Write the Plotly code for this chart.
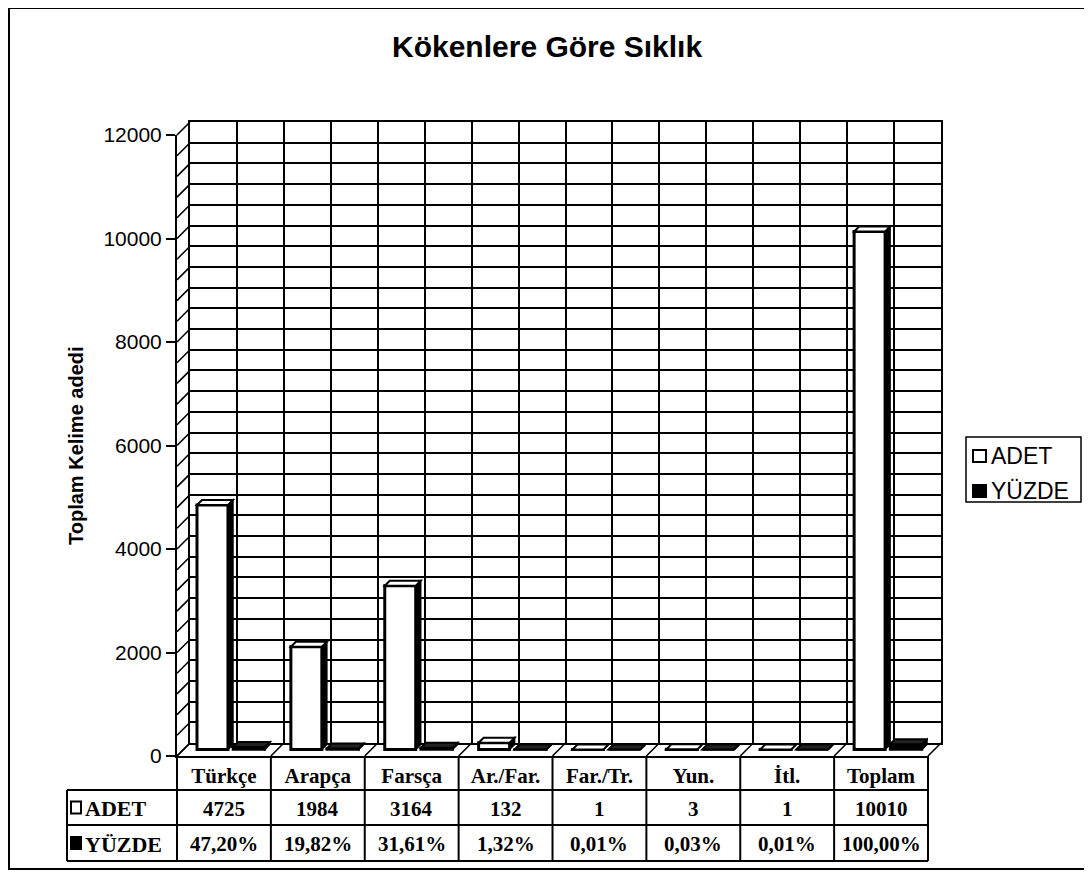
import plotly.graph_objects as go

# ---------------- data ----------------
categories = ["Türkçe", "Arapça", "Farsça", "Ar./Far.", "Far./Tr.", "Yun.", "İtl.", "Toplam"]
adet = [4725, 1984, 3164, 132, 1, 3, 1, 10010]
yuzde = [47.20, 19.82, 31.61, 1.32, 0.01, 0.03, 0.01, 100.00]
y_ticks = [0, 2000, 4000, 6000, 8000, 10000, 12000]
series_names = ["ADET", "YÜZDE"]
title_text = "Kökenlere Göre Sıklık"
y_title = "Toplam Kelime adedi"

# ---------------- geometry (screen pixels) ----------------
PAGE_OFF = 8                             # default body margin of the html page
FW, FH = 1092 - PAGE_OFF, 873 - PAGE_OFF
PL, PR, PT, PB = 177, 941, 122, 756      # paper region (screen px)
FRONT_R, FRONT_T = 928, 135              # front plane right / top
DEPTH = 13                               # 3-D depth offset (px)
YMAX = 12000
NCAT = len(categories)
SANS = "Liberation Sans, Arial, sans-serif"
SERIF = "Liberation Serif, Times New Roman, serif"


def px(x):
    return (x - PL) / (PR - PL)


def py(y):
    return (PB - y) / (PB - PT)


ypx_per_unit = (PB - FRONT_T) / YMAX
cat_px = (FRONT_R - PL) / NCAT
BASE = (DEPTH / 2) / ypx_per_unit        # bars stand at mid depth
DX = 5 / cat_px                          # bar depth in x units
DY = 5 / ypx_per_unit                    # bar depth in y units
centers = [i + 0.5 for i in range(NCAT)]
W_ADET, OFF_ADET = 0.33, -0.287
W_YUZ, OFF_YUZ = 0.34, 0.096

fig = go.Figure()

# back wall axes (x, y) – only grid
fig.add_trace(go.Scatter(x=[None], y=[None], xaxis="x", yaxis="y",
                         showlegend=False, hoverinfo="skip"))

# front bars (x2, y2)
fig.add_trace(go.Bar(x=centers, y=adet, base=BASE, width=W_ADET, offset=OFF_ADET,
                     name=series_names[0], xaxis="x2", yaxis="y2",
                     marker=dict(color="white", line=dict(color="black", width=3)),
                     showlegend=False))
fig.add_trace(go.Bar(x=centers, y=yuzde, base=BASE, width=W_YUZ, offset=OFF_YUZ,
                     name=series_names[1], xaxis="x2", yaxis="y2",
                     marker=dict(color="black", line=dict(color="black", width=2.5)),
                     showlegend=False))

shapes = []
annotations = []


def pline(x0, y0, x1, y1, w=2.0, layer="below"):
    shapes.append(dict(type="line", xref="paper", yref="paper",
                       x0=px(x0), y0=py(y0), x1=px(x1), y1=py(y1),
                       line=dict(color="black", width=w), layer=layer))


def text(x, y, s, family, size, xanchor="center", angle=0):
    annotations.append(dict(xref="paper", yref="paper", x=px(x), y=py(y),
                            xanchor=xanchor, yanchor="middle", text=s, textangle=angle,
                            showarrow=False, font=dict(family=family, size=size, color="black")))


# outer border
shapes.append(dict(type="rect", xref="paper", yref="paper",
                   x0=px(9), y0=py(869), x1=px(1087), y1=py(8),
                   line=dict(color="black", width=2), layer="below"))

# side wall diagonals (every 400)
v = 0
while v <= YMAX:
    yf = PB - v * ypx_per_unit
    pline(PL, yf, PL + DEPTH, yf - DEPTH, 1.6)
    v += 400

# floor diagonals at category boundaries
for k in range(NCAT + 1):
    xf = PL + k * cat_px
    pline(xf, PB, xf + DEPTH, PB - DEPTH, 1.6)

# 3-D faces of the bars
for vals, w, off, side_col, top_col in [(adet, W_ADET, OFF_ADET, "black", "white"),
                                        (yuzde, W_YUZ, OFF_YUZ, "black", "#222")]:
    for c, val in zip(centers, vals):
        x0 = c + off
        x1 = x0 + w
        top = BASE + val
        shapes.append(dict(type="path", xref="x2", yref="y2",
                           path=f"M {x1},{BASE} L {x1+DX},{BASE+DY} L {x1+DX},{top+DY} L {x1},{top} Z",
                           fillcolor=side_col, line=dict(color="black", width=1.5), layer="above"))
        shapes.append(dict(type="path", xref="x2", yref="y2",
                           path=f"M {x0},{top} L {x0+DX},{top+DY} L {x1+DX},{top+DY} L {x1},{top} Z",
                           fillcolor=top_col, line=dict(color="black", width=2), layer="above"))

# data table
ROW1, ROW2, ROW3, ROW4 = 756, 790, 825, 861
LBL_L = 67
for k in range(NCAT + 1):
    xb = PL + k * cat_px
    pline(xb, ROW1, xb, ROW4, 2)
pline(LBL_L, ROW2, LBL_L, ROW4, 2)
for yy in (ROW2, ROW3, ROW4):
    pline(LBL_L, yy, FRONT_R, yy, 2)

for c, a, p in zip(centers, adet, yuzde):
    annotations.append(dict(xref="x2", yref="paper", x=c, y=py((ROW2 + ROW3) / 2 + 1),
                            xanchor="center", yanchor="middle",
                            text=f"<b>{a}</b>", showarrow=False,
                            font=dict(family=SERIF, size=21, color="black")))
    annotations.append(dict(xref="x2", yref="paper", x=c, y=py((ROW3 + ROW4) / 2 + 1),
                            xanchor="center", yanchor="middle",
                            text="<b>" + f"{p:.2f}".replace(".", ",") + "%</b>", showarrow=False,
                            font=dict(family=SERIF, size=21, color="black")))

# row labels with keys
for name, yc, col in [(series_names[0], (ROW2 + ROW3) / 2, "white"),
                      (series_names[1], (ROW3 + ROW4) / 2, "black")]:
    shapes.append(dict(type="rect", xref="paper", yref="paper",
                       x0=px(71), x1=px(81), y0=py(yc + 6), y1=py(yc - 6),
                       fillcolor=col, line=dict(color="black", width=2), layer="below"))
    text(83, yc + 1, f"<b>{name}</b>", SERIF, 22, xanchor="left")

# legend
shapes.append(dict(type="rect", xref="paper", yref="paper",
                   x0=px(966), x1=px(1081), y0=py(502), y1=py(437),
                   line=dict(color="black", width=1.5), fillcolor="white", layer="below"))
for name, yc, col in [(series_names[0], 456, "white"), (series_names[1], 491, "black")]:
    shapes.append(dict(type="rect", xref="paper", yref="paper",
                       x0=px(973), x1=px(986), y0=py(yc + 6), y1=py(yc - 6),
                       fillcolor=col, line=dict(color="black", width=2), layer="below"))
    text(989, yc, name, SANS, 23, xanchor="left")

# titles
text(547, 46, f"<b>{title_text}</b>", SANS, 30)
text(76, 446, f"<b>{y_title}</b>", SANS, 20, angle=-90)

fig.update_layout(
    width=FW, height=FH,
    margin=dict(l=PL - PAGE_OFF, r=FW - (PR - PAGE_OFF), t=PT - PAGE_OFF, b=FH - (PB - PAGE_OFF)),
    paper_bgcolor="white", plot_bgcolor="rgba(0,0,0,0)",
    barmode="overlay", showlegend=False,
    shapes=shapes, annotations=annotations,
    xaxis=dict(domain=[px(PL + DEPTH), 1], range=[0, NCAT], anchor="y",
               showgrid=True, gridcolor="black", gridwidth=1.5, dtick=0.5, tick0=0,
               showticklabels=False, ticks="", zeroline=False,
               showline=True, mirror=True, linecolor="black", linewidth=2),
    yaxis=dict(domain=[py(PB - DEPTH), 1], range=[0, YMAX], anchor="x",
               showgrid=True, gridcolor="black", gridwidth=1.5, dtick=400, tick0=0,
               showticklabels=False, ticks="", zeroline=False,
               showline=True, mirror=True, linecolor="black", linewidth=2),
    xaxis2=dict(domain=[0, px(FRONT_R)], range=[0, NCAT], anchor="y2",
                showgrid=False, zeroline=False,
                tickvals=centers, ticktext=[f"<b>{c}</b>" for c in categories],
                ticks="", tickfont=dict(family=SERIF, size=21, color="black"),
                showline=True, linecolor="black", linewidth=2),
    yaxis2=dict(domain=[0, py(FRONT_T)], range=[0, YMAX], anchor="x2",
                showgrid=False, zeroline=False, tickformat="d",
                tickvals=y_ticks, ticks="outside", ticklen=9, tickwidth=1.5,
                tickcolor="black",
                tickfont=dict(family=SANS, size=21, color="black"),
                showline=True, linecolor="black", linewidth=2),
)

fig.write_html("out.html")
